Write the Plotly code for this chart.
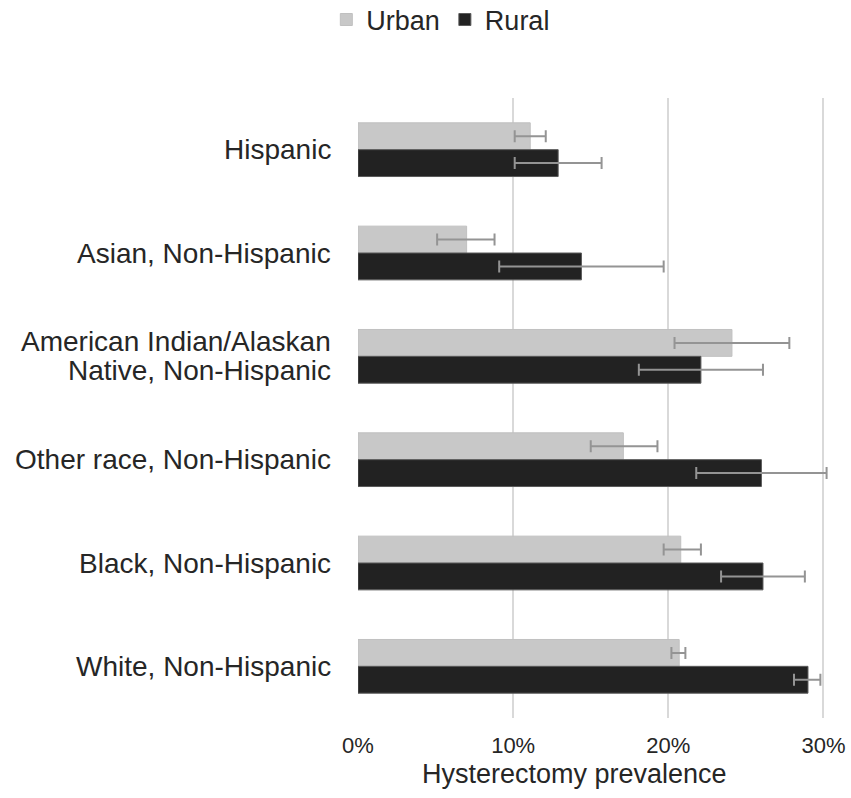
import plotly.graph_objects as go

categories = ["Hispanic", "Asian, Non-Hispanic", "American Indian/Alaskan Native, Non-Hispanic",
              "Other race, Non-Hispanic", "Black, Non-Hispanic", "White, Non-Hispanic"]
label_lines = [["Hispanic"], ["Asian, Non-Hispanic"], ["American Indian/Alaskan", "Native, Non-Hispanic"],
               ["Other race, Non-Hispanic"], ["Black, Non-Hispanic"], ["White, Non-Hispanic"]]

urban = [11.1, 7.0, 24.1, 17.1, 20.8, 20.7]
urban_lo = [10.1, 5.1, 20.4, 15.0, 19.7, 20.2]
urban_hi = [12.1, 8.8, 27.8, 19.3, 22.1, 21.1]

rural = [12.9, 14.4, 22.1, 26.0, 26.1, 29.0]
rural_lo = [10.1, 9.1, 18.1, 21.8, 23.4, 28.1]
rural_hi = [15.7, 19.7, 26.1, 30.2, 28.8, 29.8]

tick_vals = [0, 10, 20, 30]
tick_text = ["0%", "10%", "20%", "30%"]
x_title = "Hysterectomy prevalence"

font_family = "Liberation Sans, Arial, sans-serif"
text_color = "#262626"

fig = go.Figure()
fig.add_trace(go.Bar(
    name="Urban", y=categories, x=urban, orientation="h",
    marker=dict(color="#c8c8c8", line=dict(color="#c0c0c0", width=1)),
    error_x=dict(type="data", symmetric=False,
                 array=[h - v for h, v in zip(urban_hi, urban)],
                 arrayminus=[v - l for l, v in zip(urban_lo, urban)],
                 color="#949494", thickness=2, width=6),
))
fig.add_trace(go.Bar(
    name="Rural", y=categories, x=rural, orientation="h",
    marker=dict(color="#222222", line=dict(color="#5a5a5a", width=1)),
    error_x=dict(type="data", symmetric=False,
                 array=[h - v for h, v in zip(rural_hi, rural)],
                 arrayminus=[v - l for l, v in zip(rural_lo, rural)],
                 color="#949494", thickness=2, width=6),
))

annotations = []
for cat, lines in zip(categories, label_lines):
    n = len(lines)
    for i, ln in enumerate(lines):
        shift = (n - 1) / 2 * 29 - i * 29
        annotations.append(dict(
            x=0, xref="paper", y=cat, yref="y", text=ln, showarrow=False,
            xanchor="right", yanchor="middle", xshift=-25, yshift=shift,
            font=dict(family=font_family, size=28, color=text_color)))

annotations.append(dict(
    x=0.451, xref="paper", y=0, yref="paper", text=x_title, showarrow=False,
    xanchor="center", yanchor="middle", yshift=-56,
    font=dict(family=font_family, size=27, color=text_color)))

fig.update_layout(
    width=851, height=798,
    margin=dict(l=358, r=12, t=98, b=80, autoexpand=False),
    paper_bgcolor="white", plot_bgcolor="white",
    barmode="group", bargap=0.48, bargroupgap=0,
    font=dict(family=font_family, color=text_color),
    showlegend=True,
    legend=dict(orientation="h", xref="container", yref="container",
                x=0.518, xanchor="center", y=0.975, yanchor="middle",
                font=dict(size=27, color=text_color), traceorder="normal",
                itemwidth=30),
    annotations=annotations,
)
fig.update_xaxes(
    range=[0, 31], tickvals=tick_vals, ticktext=tick_text,
    showgrid=True, gridcolor="#d9d9d9", gridwidth=2,
    zeroline=False, showline=False, ticks="", automargin=False,
    ticklabelstandoff=12,
    tickfont=dict(size=22, color=text_color),
)
fig.update_yaxes(
    autorange="reversed", showticklabels=False, showgrid=False,
    zeroline=False, showline=False, ticks="", automargin=False,
)

fig.write_html("out.html")
